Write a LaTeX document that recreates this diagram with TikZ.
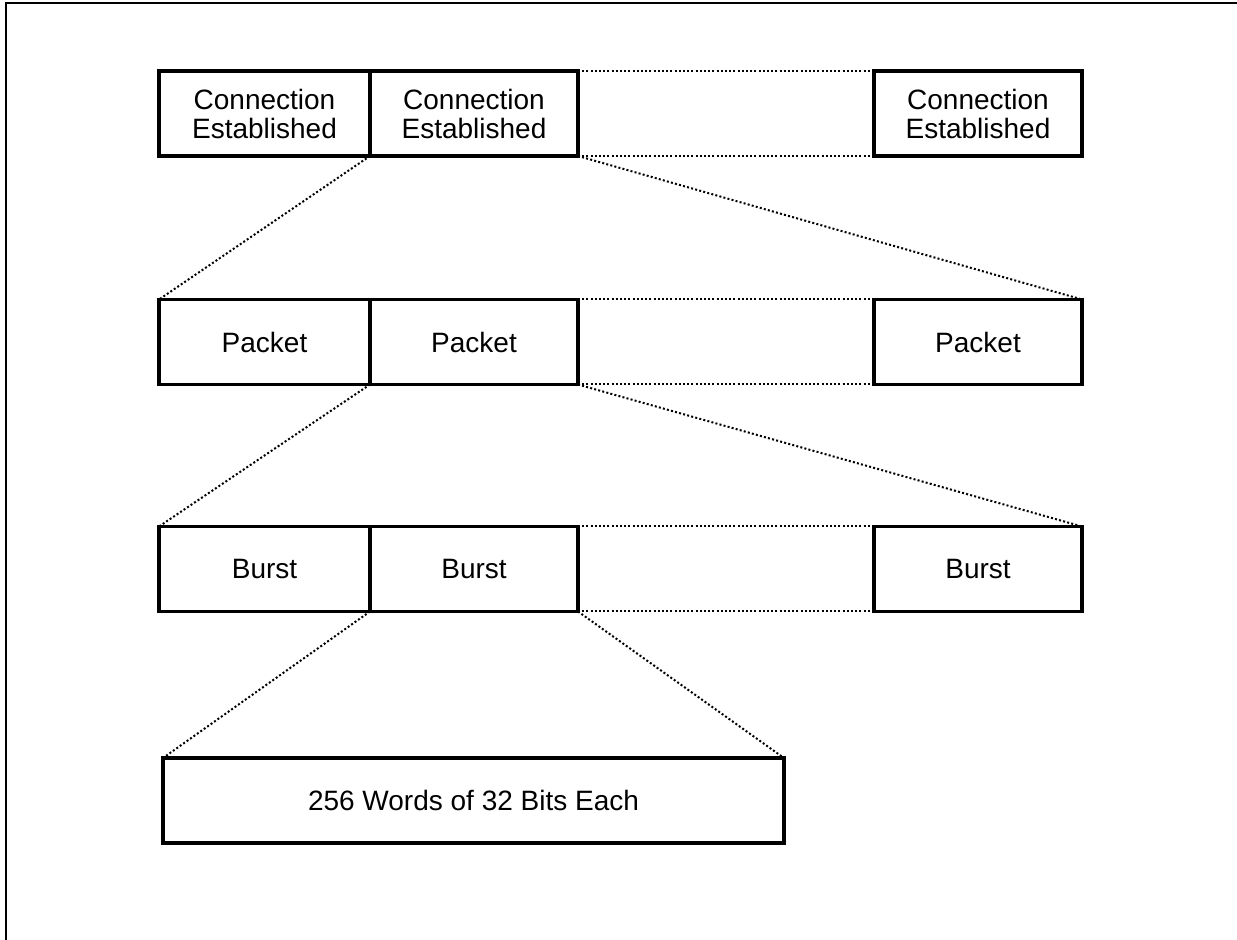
\documentclass[tikz,border=0pt]{standalone}
\usepackage{fontspec}
\setmainfont{Liberation Sans}
\begin{document}
\begin{tikzpicture}[x=0.5pt,y=-0.5pt,
  box/.style={draw, line width=1.8pt, minimum height=42.5pt, inner sep=0pt, outer sep=0pt,
    align=center, font=\fontsize{14}{14.5}\selectfont},
  dotline/.style={line width=1pt, dash pattern=on 1pt off 1.1pt},
  frameline/.style={line width=0.9pt}]
\useasboundingbox (0,0) rectangle (1237,940);
% frame (only top and left edges visible)
\coordinate (fbl) at (6,940);
\coordinate (ftl) at (6,3);
\coordinate (ftr) at (1237,3);
\draw[frameline] (fbl) -- (ftl) -- (ftr);
% row 1
\node[box, minimum width=105.5pt] (a1) at (264.5,113.5) {Connection\\Established};
\node[box, minimum width=104pt] (a2) at (474,113.5) {Connection\\Established};
\node[box, minimum width=104pt] (a3) at (978,113.5) {Connection\\Established};
% row 2
\node[box, minimum width=105.5pt] (b1) at (264.5,342) {Packet};
\node[box, minimum width=104pt] (b2) at (474,342) {Packet};
\node[box, minimum width=104pt] (b3) at (978,342) {Packet};
% row 3
\node[box, minimum width=105.5pt] (c1) at (264.5,569) {Burst};
\node[box, minimum width=104pt] (c2) at (474,569) {Burst};
\node[box, minimum width=104pt] (c3) at (978,569) {Burst};
% bottom
\node[box, minimum width=310.5pt] (d) at (473.5,800.5) {256 Words of 32 Bits Each};
% gaps
\draw[dotline] (a2.north east) -- (a3.north west);
\draw[dotline] (a2.south east) -- (a3.south west);
\draw[dotline] (b2.north east) -- (b3.north west);
\draw[dotline] (b2.south east) -- (b3.south west);
\draw[dotline] (c2.north east) -- (c3.north west);
\draw[dotline] (c2.south east) -- (c3.south west);
% expansions
\draw[dotline] (a2.south west) -- (b1.north west);
\draw[dotline] (a2.south east) -- (b3.north east);
\draw[dotline] (b2.south west) -- (c1.north west);
\draw[dotline] (b2.south east) -- (c3.north east);
\draw[dotline] (c2.south west) -- (d.north west);
\draw[dotline] (c2.south east) -- (d.north east);
\end{tikzpicture}
\end{document}
